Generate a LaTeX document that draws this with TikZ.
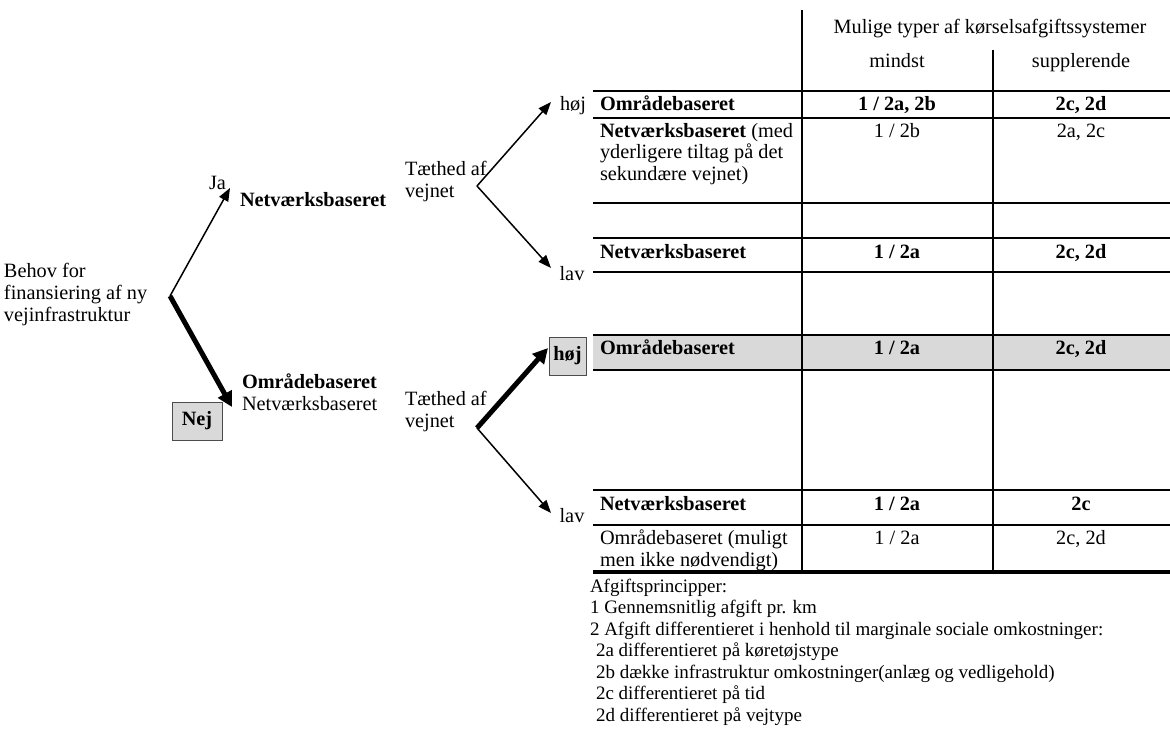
\documentclass[tikz,border=0pt]{standalone}
\usepackage{fontspec}
\setmainfont{Liberation Serif}
\usetikzlibrary{arrows.meta}
\begin{document}
\begin{tikzpicture}[x=1pt,y=-1pt,
  every node/.style={inner sep=0pt,outer sep=0pt,font=\fontsize{20.3}{21.5}\selectfont},
  tl/.style={anchor=base west},
  tc/.style={anchor=base},
  tb/.style={font=\fontsize{20.3}{21.5}\selectfont\bfseries},
  leg/.style={anchor=base west,font=\fontsize{19}{21.5}\selectfont},
  rule/.style={line width=2pt},
  botrule/.style={line width=3.2pt},
  thinarrow/.style={line width=1.5pt,-{Triangle[length=13pt,width=10pt]}},
  thickarrow/.style={line width=5pt,-{Triangle[length=15pt,width=15pt]}},
  gbox/.style={draw=black!70,fill=gray!30,line width=1pt}
]
\useasboundingbox (0,0) rectangle (1170,731);

% grey row
\fill[gray!30] (593,335) rectangle (1170,370);

% table rules
\foreach \yy in {91,118,203,238,272,335,370,490,525}
  \draw[rule] (593,\yy) -- (1170,\yy);
\draw[botrule] (593,572) -- (1170,572);
\draw[rule] (802,10) -- (802,572);
\draw[rule] (993,50) -- (993,572);

% header
\node[tc] (hdr) at (990,33) {Mulige typer af kørselsafgiftssystemer};
\node[tc] (mindst) at (897,67) {mindst};
\node[tc] (suppl) at (1081,67) {supplerende};

% rows
\node[tl,tb] (r1a) at (600,110) {Områdebaseret};
\node[tc,tb] (r1b) at (897,110) {1 / 2a, 2b};
\node[tc,tb] (r1c) at (1081,110) {2c, 2d};

\node[tl] (r2a1) at (600,137) {\textbf{Netværksbaseret} (med};
\node[tl] (r2a2) at (600,158.5) {yderligere tiltag på det};
\node[tl] (r2a3) at (600,180) {sekundære vejnet)};
\node[tc] (r2b) at (897,137) {1 / 2b};
\node[tc] (r2c) at (1081,137) {2a, 2c};

\node[tl,tb] (r3a) at (600,258) {Netværksbaseret};
\node[tc,tb] (r3b) at (897,258) {1 / 2a};
\node[tc,tb] (r3c) at (1081,258) {2c, 2d};

\node[tl,tb] (r4a) at (600,354) {Områdebaseret};
\node[tc,tb] (r4b) at (897,354) {1 / 2a};
\node[tc,tb] (r4c) at (1081,354) {2c, 2d};

\node[tl,tb] (r5a) at (600,510) {Netværksbaseret};
\node[tc,tb] (r5b) at (897,510) {1 / 2a};
\node[tc,tb] (r5c) at (1081,510) {2c};

\node[tl] (r6a1) at (600,544) {Områdebaseret (muligt};
\node[tl] (r6a2) at (600,566) {men ikke nødvendigt)};
\node[tc] (r6b) at (897,544) {1 / 2a};
\node[tc] (r6c) at (1081,544) {2c, 2d};

% legend
\node[leg] (lg0) at (590,592) {Afgiftsprincipper:};
\node[leg] (lg1) at (590,613.5) {1 Gennemsnitlig afgift pr. km};
\node[leg] (lg2) at (590,635) {2 Afgift differentieret i henhold til marginale sociale omkostninger:};
\node[leg] (lg3) at (596,656.5) {2a differentieret på køretøjstype};
\node[leg] (lg4) at (596,678) {2b dække infrastruktur omkostninger(anlæg og vedligehold)};
\node[leg] (lg5) at (596,699.5) {2c differentieret på tid};
\node[leg] (lg6) at (596,721) {2d differentieret på vejtype};

% left tree
\node[tl] (behov1) at (4,277) {Behov for};
\node[tl] (behov2) at (4,299) {finansiering af ny};
\node[tl] (behov3) at (4,321) {vejinfrastruktur};
\coordinate (b0) at (170,296);
\coordinate (jatip) at (230,188);
\coordinate (nejtip) at (232,407);
\draw[thinarrow] (b0) -- (jatip);
\draw[thickarrow] (b0) -- (nejtip);
\node[tl] (ja) at (209,189) {Ja};
\node[tl,tb] (netv1) at (240,206) {Netværksbaseret};
\node[gbox,tb,minimum width=50pt,minimum height=38pt] (nej) at (197,421) {Nej};
\node[tl,tb] (omr1) at (242,388) {Områdebaseret};
\node[tl] (netv2) at (242,410) {Netværksbaseret};

% upper density split
\node[tl] (t1a) at (405,175) {Tæthed af};
\node[tl] (t1b) at (405,197) {vejnet};
\coordinate (b1) at (477,186);
\coordinate (h1tip) at (551,102);
\coordinate (l1tip) at (551,268);
\draw[thinarrow] (b1) -- (h1tip);
\draw[thinarrow] (b1) -- (l1tip);
\node[tc] (hoj1) at (573,110) {høj};
\node[tc] (lav1) at (572,280) {lav};

% lower density split
\node[tl] (t2a) at (405,405) {Tæthed af};
\node[tl] (t2b) at (405,427) {vejnet};
\coordinate (b2) at (477,428);
\node[gbox,tb,minimum width=37pt,minimum height=38pt] (hoj2) at (567.5,356) {høj};
\coordinate (h2tip) at (548,348);
\coordinate (l2tip) at (551,513);
\draw[thickarrow] (b2) -- (h2tip);
\draw[thinarrow] (b2) -- (l2tip);
\node[tc] (lav2) at (572,522) {lav};
\end{tikzpicture}
\end{document}
